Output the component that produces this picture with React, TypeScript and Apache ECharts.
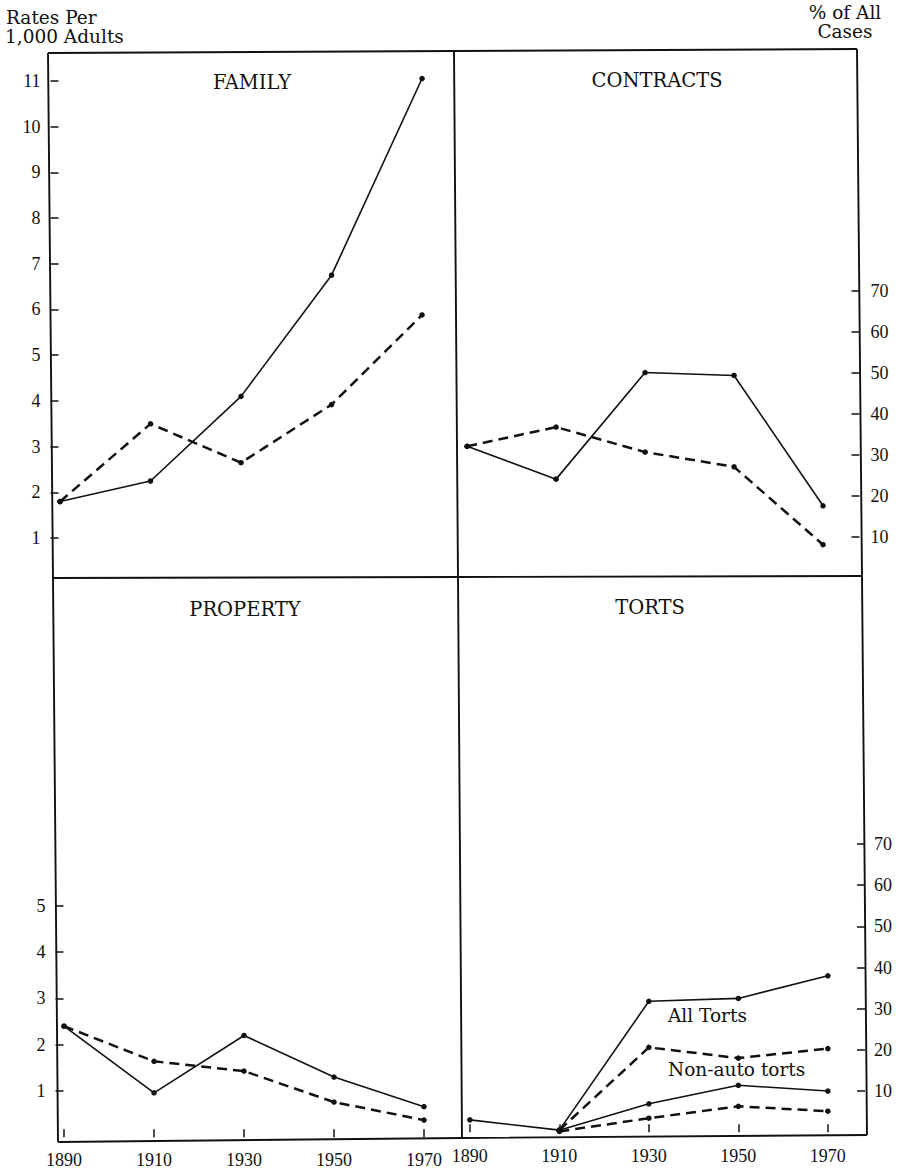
import React, { useEffect, useRef } from "react";
import * as echarts from "echarts";

// ---- data ----
const years = [1890, 1910, 1930, 1950, 1970];

const familySolid = [1.8, 2.25, 4.1, 6.75, 11.05];
const familyDashed = [1.8, 3.5, 2.65, 3.92, 5.88];

const contractsSolid = [32, 24, 50, 49.3, 17.5];
const contractsDashed = [32, 36.7, 30.6, 27, 8];

const propertySolid = [2.4, 0.96, 2.2, 1.3, 0.66];
const propertyDashed = [2.4, 1.64, 1.43, 0.76, 0.37];

const tortsAllSolid = [3, 0.5, 31.8, 32.5, 38];
const tortsAllDashed = [null, 0.5, 20.6, 18, 20.3];
const tortsNonAutoSolid = [null, 0.5, 6.9, 11.4, 10];
const tortsNonAutoDashed = [null, 0.2, 3.4, 6.3, 5.1];

const familyTicks = [1, 2, 3, 4, 5, 6, 7, 8, 9, 10, 11];
const propertyTicks = [1, 2, 3, 4, 5];
const percentTicks = [10, 20, 30, 40, 50, 60, 70];

const panelTitles = ["FAMILY", "CONTRACTS", "PROPERTY", "TORTS"];
const leftAxisTitle = ["Rates Per", "1,000 Adults"];
const rightAxisTitle = ["% of All", "Cases"];
const tortLabels = ["All Torts", "Non-auto torts"];

const FONT = "DejaVu Serif";
const NUMFONT = "Liberation Serif";
const INK = "#111";

function pairs(vals: (number | null)[]) {
  return years.map((y, i) => [y, vals[i]]);
}

function solid(name: string, vals: (number | null)[], idx: number) {
  return {
    type: "line",
    name,
    xAxisIndex: idx,
    yAxisIndex: idx,
    data: pairs(vals),
    symbol: "circle",
    symbolSize: 5.5,
    connectNulls: false,
    lineStyle: { color: INK, width: 1.6, type: "solid" },
    itemStyle: { color: INK },
    z: 3,
  };
}
function dashed(name: string, vals: (number | null)[], idx: number) {
  return {
    type: "line",
    name,
    xAxisIndex: idx,
    yAxisIndex: idx,
    data: pairs(vals),
    symbol: "circle",
    symbolSize: 5.5,
    connectNulls: false,
    lineStyle: { color: INK, width: 2.5, type: [10, 6] },
    itemStyle: { color: INK },
    z: 3,
  };
}

function yAxisDef(
  idx: number,
  position: "left" | "right",
  min: number,
  max: number,
  ticks: number[],
  margin: number
) {
  return {
    type: "value",
    gridIndex: idx,
    position,
    min,
    max,
    axisLine: { show: false },
    splitLine: { show: false },
    axisTick: {
      show: true,
      inside: true,
      length: 8,
      customValues: ticks,
      lineStyle: { color: INK, width: 1.5 },
    },
    axisLabel: {
      show: true,
      customValues: ticks,
      margin,
      color: INK,
      fontFamily: NUMFONT,
      fontSize: 18,
      formatter: (v: number) => String(v),
    },
  };
}

function xAxisDef(idx: number, min: number, max: number, showLabels: boolean) {
  return {
    type: "value",
    gridIndex: idx,
    min,
    max,
    show: showLabels,
    axisLine: { show: false },
    splitLine: { show: false },
    axisTick: {
      show: showLabels,
      inside: true,
      length: 8,
      customValues: years,
      lineStyle: { color: INK, width: 1.5 },
    },
    axisLabel: {
      show: showLabels,
      customValues: years,
      margin: 11,
      color: INK,
      fontFamily: NUMFONT,
      fontSize: 18,
      formatter: (v: number) => String(v),
    },
  };
}

export default function App() {
  const ref = useRef<HTMLDivElement>(null);

  useEffect(() => {
    document.body.style.margin = "0";
    if (!ref.current) return;
    const chart = echarts.init(ref.current, null, { renderer: "svg" });

    // frame corners (slightly skewed like the scanned original)
    const TL = [48, 53], TM = [454, 51], TR = [857, 49];
    const ML = [53, 578], C = [458, 577], MR = [862, 576];
    const BL = [58, 1142], BM = [462, 1138], BR = [867, 1135];
    const frameLine = (pts: number[][]) => ({
      type: "polyline",
      shape: { points: pts },
      style: { stroke: INK, lineWidth: 1.9, fill: null },
      silent: true,
      z: 10,
    });
    const txt = (
      text: string,
      x: number,
      y: number,
      align: string,
      size: number
    ) => ({
      type: "text",
      x,
      y,
      style: {
        text,
        fill: INK,
        font: `${size}px "${FONT}"`,
        textAlign: align,
        textVerticalAlign: "middle",
      },
      silent: true,
      z: 10,
    });

    const option = {
      animation: false,
      backgroundColor: "#fff",
      grid: [
        { left: 50.5, top: 52, width: 405.5, height: 525.5 },
        { left: 456, top: 50, width: 403.5, height: 527.5 },
        { left: 55.5, top: 578, width: 404.5, height: 562 },
        { left: 460, top: 576, width: 405, height: 560 },
      ],
      xAxis: [
        xAxisDef(0, 1887.9, 1977.5, false),
        xAxisDef(1, 1887.5, 1978.2, false),
        xAxisDef(2, 1888.1, 1978.0, true),
        xAxisDef(3, 1887.8, 1978.3, true),
      ],
      yAxis: [
        yAxisDef(0, "left", 0.14, 11.63, familyTicks, 10),
        yAxisDef(1, "right", 0, 128.7, percentTicks, 11),
        yAxisDef(2, "left", -0.06, 12.09, propertyTicks, 10),
        yAxisDef(3, "right", -0.92, 135.1, percentTicks, 9),
      ],
      series: [
        solid("Family (solid)", familySolid, 0),
        dashed("Family (dashed)", familyDashed, 0),
        solid("Contracts (solid)", contractsSolid, 1),
        dashed("Contracts (dashed)", contractsDashed, 1),
        solid("Property (solid)", propertySolid, 2),
        dashed("Property (dashed)", propertyDashed, 2),
        solid("All Torts (solid)", tortsAllSolid, 3),
        dashed("All Torts (dashed)", tortsAllDashed, 3),
        solid("Non-auto torts (solid)", tortsNonAutoSolid, 3),
        dashed("Non-auto torts (dashed)", tortsNonAutoDashed, 3),
      ],
      graphic: [
        frameLine([TL, TM, TR]),
        frameLine([ML, C, MR]),
        frameLine([BL, BM, BR]),
        frameLine([TL, ML, BL]),
        frameLine([TM, C, BM]),
        frameLine([TR, MR, BR]),
        txt(leftAxisTitle[0], 6, 17, "left", 18.5),
        txt(leftAxisTitle[1], 5, 36, "left", 18.5),
        txt(rightAxisTitle[0], 845, 12, "center", 18.5),
        txt(rightAxisTitle[1], 845, 31, "center", 18.5),
        txt(panelTitles[0], 252, 82, "center", 19.5),
        txt(panelTitles[1], 657, 80, "center", 19.5),
        txt(panelTitles[2], 245, 609, "center", 19.5),
        txt(panelTitles[3], 650, 607, "center", 19.5),
        txt(tortLabels[0], 668, 1015, "left", 18.5),
        txt(tortLabels[1], 668, 1069, "left", 18.5),
      ],
    };

    chart.setOption(option as any);
    return () => chart.dispose();
  }, []);

  return <div ref={ref} style={{ width: 901, height: 1170 }} />;
}
